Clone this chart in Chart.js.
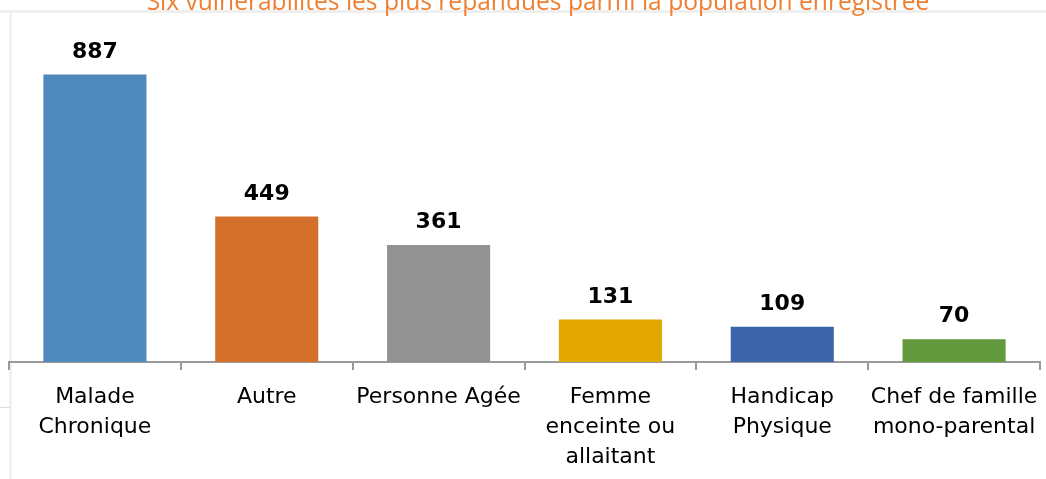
<!DOCTYPE html>
<html>
<head>
<meta charset="utf-8">
<script src="https://cdn.jsdelivr.net/npm/chart.js@4/dist/chart.umd.min.js"></script>
<style>
  html, body { margin: 0; padding: 0; background: #fff; }
  #wrap { position: relative; width: 1046px; height: 479px; overflow: hidden; }
  #wrap canvas { position: absolute; left: 0; top: 0; z-index: 2; }
  .frame { position: absolute; z-index: 1; }
</style>
</head>
<body>
<div id="wrap">
  <div class="frame" style="left:0;top:10px;width:1046px;height:3px;background:#efefef"></div>
  <div class="frame" style="left:9px;top:12px;width:3px;height:467px;background:#f1f1f1"></div>
  <div class="frame" style="left:0;top:407px;width:10px;height:1px;background:#dcdcdc"></div>
  <canvas id="chartVuln" width="1046" height="479"></canvas>
</div>
<script>
// Six vulnérabilités les plus répandues — population enregistrée

const titre = "Six vulnérabilités les plus répandues parmi la population enregistrée";

const categories = [
  ["Malade", "Chronique"],
  ["Autre"],
  ["Personne Agée"],
  ["Femme", "enceinte ou", "allaitant"],
  ["Handicap", "Physique"],
  ["Chef de famille", "mono-parental"],
];

const effectifs = [887, 449, 361, 131, 109, 70];

const couleurs = ["#508abd", "#d4702c", "#929292", "#e3a800", "#3c64ab", "#629a3d"];

// Valeurs au-dessus des barres
const valeursPlugin = {
  id: "valeurs",
  afterDatasetsDraw(chart) {
    const ctx = chart.ctx;
    const meta = chart.getDatasetMeta(0);
    ctx.save();
    ctx.font = "bold 22px 'DejaVu Sans'";
    ctx.fillStyle = "#000";
    ctx.textAlign = "center";
    ctx.textBaseline = "alphabetic";
    meta.data.forEach((bar, i) => {
      ctx.fillText(String(effectifs[i]), bar.x, bar.y - 17);
    });
    ctx.restore();
  },
};

// Titre orange, coupé en haut comme dans l'original
const titrePlugin = {
  id: "titreCoupe",
  afterDraw(chart) {
    const ctx = chart.ctx;
    ctx.save();
    let size = 22;
    ctx.font = size + "px 'Open Sans'";
    const w = ctx.measureText(titre).width;
    size = size * 783 / w;
    ctx.font = size.toFixed(2) + "px 'Open Sans'";
    ctx.fillStyle = "#ee8034";
    ctx.textAlign = "center";
    ctx.textBaseline = "alphabetic";
    ctx.fillText(titre, 538, 10);
    ctx.restore();
  },
};

function initChart() {
  const ctx = document.getElementById("chartVuln").getContext("2d");
  return new Chart(ctx, {
    type: "bar",
    data: {
      labels: categories,
      datasets: [
        {
          data: effectifs,
          backgroundColor: couleurs,
          borderWidth: 0,
          barPercentage: 0.6,
          categoryPercentage: 1,
        },
      ],
    },
    options: {
      responsive: false,
      animation: false,
      layout: { padding: { top: 38, left: 9, right: 6, bottom: 0 } },
      plugins: {
        legend: { display: false },
        tooltip: { enabled: false },
        title: { display: false },
      },
      scales: {
        y: { display: false, min: 0, max: 1000 },
        x: {
          offset: true,
          grid: {
            display: true,
            offset: true,
            drawOnChartArea: false,
            drawTicks: true,
            tickLength: 8,
            color: "#9a9a9a",
            lineWidth: 2,
          },
          border: { display: true, color: "#9a9a9a", width: 2 },
          ticks: {
            color: "#000",
            font: { family: "DejaVu Sans", size: 22, lineHeight: 1.364 },
            padding: 12,
            maxRotation: 0,
            autoSkip: false,
          },
          afterFit: (s) => {
            s.height = 117;
            s.paddingLeft = 0;
            s.paddingRight = 0;
          },
        },
      },
    },
    plugins: [valeursPlugin, titrePlugin],
  });
}

initChart();
</script>
</body>
</html>
